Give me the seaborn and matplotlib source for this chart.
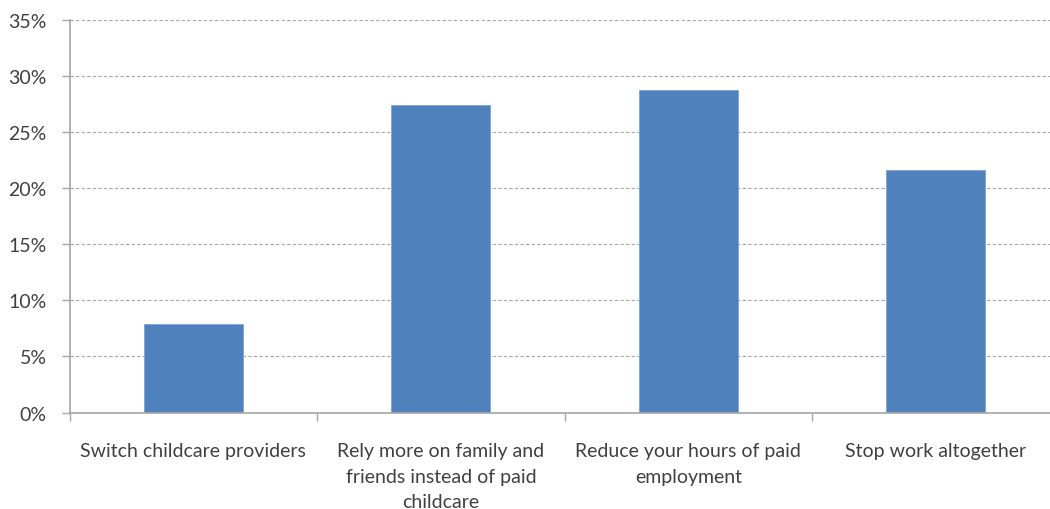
import matplotlib
matplotlib.use("Agg")
import matplotlib.pyplot as plt
import seaborn as sns
import pandas as pd
from matplotlib.ticker import FixedLocator, PercentFormatter

categories = [
    "Switch childcare providers",
    "Rely more on family and\nfriends instead of paid\nchildcare",
    "Reduce your hours of paid\nemployment",
    "Stop work altogether",
]
values = [7.9, 27.4, 28.8, 21.6]
y_ticks = [0, 5, 10, 15, 20, 25, 30, 35]

sns.set_theme(style="white")
plt.rcParams["font.family"] = ["Lato", "DejaVu Sans"]

df = pd.DataFrame({"category": categories, "value": values})

fig = plt.figure(figsize=(10.5, 5.1), dpi=100)
ax = fig.add_axes([0.0662, 0.1892, 0.943, 0.7696])

sns.barplot(data=df, x="category", y="value", color="#4F81BD",
            width=0.4, saturation=1, edgecolor="#7FA3D3", linewidth=0.6, ax=ax)

ax.set_xlim(-0.5, len(categories) - 0.5)
ax.set_ylim(0, 35)
ax.set_yticks(y_ticks)
ax.yaxis.set_major_formatter(PercentFormatter(decimals=0))
ax.grid(axis="y", color="#A6A6A6", linestyle=(0, (3, 2)), linewidth=0.8)
ax.set_axisbelow(True)

# category boundary ticks below the axis
ax.xaxis.set_minor_locator(FixedLocator([i - 0.5 for i in range(len(categories) + 1)]))
ax.tick_params(axis="x", which="major", length=0, pad=21.5, labelsize=14,
               labelcolor="#404040")
ax.tick_params(axis="x", which="minor", length=6, width=1, color="#A6A6A6",
               direction="out", bottom=True)
ax.tick_params(axis="y", length=6, width=1, color="#A6A6A6", direction="out",
               left=True, labelsize=14, labelcolor="#404040", pad=10.5)
for lbl in ax.get_xticklabels():
    lbl.set_linespacing(1.6)
    lbl.set_verticalalignment("top")

for side in ["top", "right"]:
    ax.spines[side].set_visible(False)
for side in ["left", "bottom"]:
    ax.spines[side].set_color("#A6A6A6")
    ax.spines[side].set_linewidth(1.2)

ax.set_xlabel("")
ax.set_ylabel("")

fig.savefig("out.png", dpi=100)
